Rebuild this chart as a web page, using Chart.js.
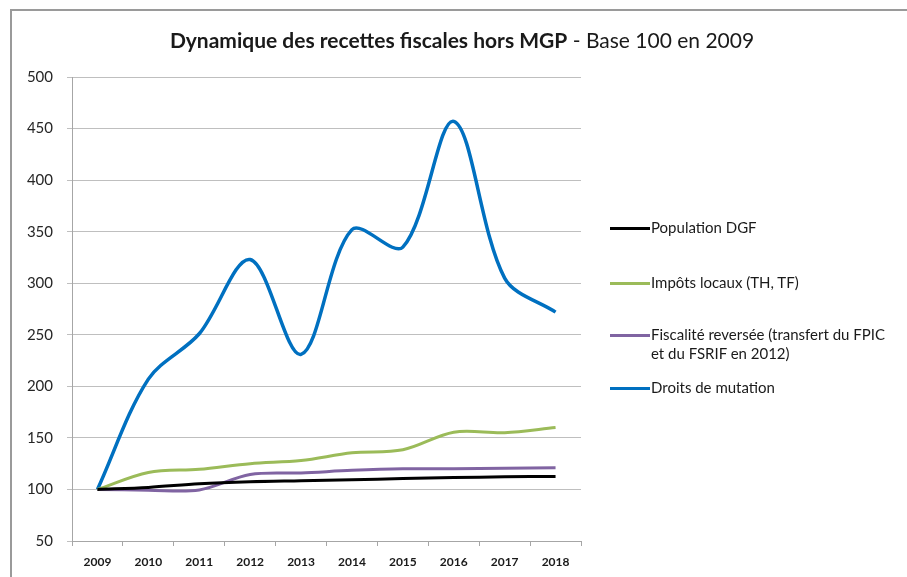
<!DOCTYPE html>
<html>
<head>
<meta charset="utf-8">
<script src="https://cdn.jsdelivr.net/npm/chart.js@4/dist/chart.umd.min.js"></script>
<style>
  html, body { margin:0; padding:0; background:#fff; }
  #wrap { position:relative; width:907px; height:577px; overflow:hidden; font-family: Lato, "Open Sans", sans-serif; color:#1a1a1a; }
  #frame { position:absolute; left:10px; top:9px; width:1000px; height:700px; border-left:2px solid #9a9a9a; border-top:2px solid #9a9a9a; box-sizing:border-box; }
  #title { position:absolute; left:0; width:924px; top:27px; text-align:center; font-size:21px; white-space:nowrap; }
  #title b { font-weight:700; }
  canvas { position:absolute; left:0; top:0; }
  .lg { position:absolute; left:610px; font-size:15px; white-space:nowrap; line-height:19px; }
  .lg .sw { display:inline-block; width:40px; height:3px; vertical-align:middle; margin-right:1px; position:relative; top:-1px; }
</style>
</head>
<body>
<div id="wrap">
  <div id="frame"></div>
  <canvas id="c" width="907" height="577"></canvas>
  <div id="title"><b>Dynamique des recettes fiscales hors MGP</b> - Base 100 en 2009</div>
  <div id="legend"></div>
</div>
<script>
const years = ['2009','2010','2011','2012','2013','2014','2015','2016','2017','2018'];
const populationDGF = [100, 102, 105.5, 107.5, 108.5, 109.5, 110.5, 111.5, 112.3, 112.6];
const impotsLocaux = [100, 116.5, 119.5, 125, 128, 135.5, 138.5, 155.5, 155, 160];
const fiscaliteReversee = [100, 99.3, 99.5, 114.5, 116, 118.5, 120, 120, 120.5, 121];
const droitsMutation = [100, 207, 251, 323, 231, 352, 335, 457, 305, 272];
const seriesNames = ['Population DGF', 'Impôts locaux (TH, TF)', 'Fiscalité reversée (transfert du FPIC\net du FSRIF en 2012)', 'Droits de mutation'];
const seriesColors = ['#000000', '#9bbb59', '#8064a2', '#0070c0'];
const yTicks = [50, 100, 150, 200, 250, 300, 350, 400, 450, 500];

const seriesData = [populationDGF, impotsLocaux, fiscaliteReversee, droitsMutation];
const widths = [3, 3, 3, 3.5];

new Chart(document.getElementById('c'), {
  type: 'line',
  data: {
    labels: years,
    datasets: seriesData.map((d, i) => ({
      label: seriesNames[i],
      data: d,
      borderColor: seriesColors[i],
      backgroundColor: seriesColors[i],
      borderWidth: widths[i],
      pointRadius: 0,
      tension: 0.33,
      fill: false
    }))
  },
  options: {
    responsive: false,
    animation: false,
    layout: { padding: { left: 0, right: 326, top: 77, bottom: 0 } },
    plugins: { legend: { display: false }, title: { display: false }, tooltip: { enabled: false } },
    scales: {
      x: {
        type: 'category',
        offset: true,
        grid: { display: true, offset: true, drawOnChartArea: false, drawTicks: true, tickLength: 5, color: '#a6a6a6', lineWidth: 1 },
        border: { display: true, color: '#a6a6a6', width: 1 },
        ticks: { color: '#1a1a1a', font: { family: 'Lato', size: 12, weight: 'bold' }, padding: 9, maxRotation: 0, autoSkip: false },
        afterFit: s => { s.height = 36; }
      },
      y: {
        min: 50, max: 500,
        afterBuildTicks: s => { s.ticks = yTicks.map(v => ({ value: v })); },
        grid: { color: '#bfbfbf', lineWidth: 1, drawTicks: true, tickLength: 5 },
        border: { display: true, color: '#a6a6a6', width: 1 },
        ticks: { color: '#262626', font: { family: 'Lato', size: 15 }, padding: 14 },
        afterFit: s => { s.width = 72; }
      }
    }
  }
});

// HTML legend
const legendTops = [218, 273, 325, 378];
const lg = document.getElementById('legend');
seriesNames.forEach((name, i) => {
  const d = document.createElement('div');
  d.className = 'lg';
  d.style.top = legendTops[i] + 'px';
  const parts = name.split('\n');
  const sw = '<span class="sw" style="background:' + seriesColors[i] + '"></span>';
  d.innerHTML = sw + parts[0] + (parts[1] ? '<br><span style="margin-left:41px">' + parts[1] + '</span>' : '');
  lg.appendChild(d);
});
</script>
</body>
</html>
